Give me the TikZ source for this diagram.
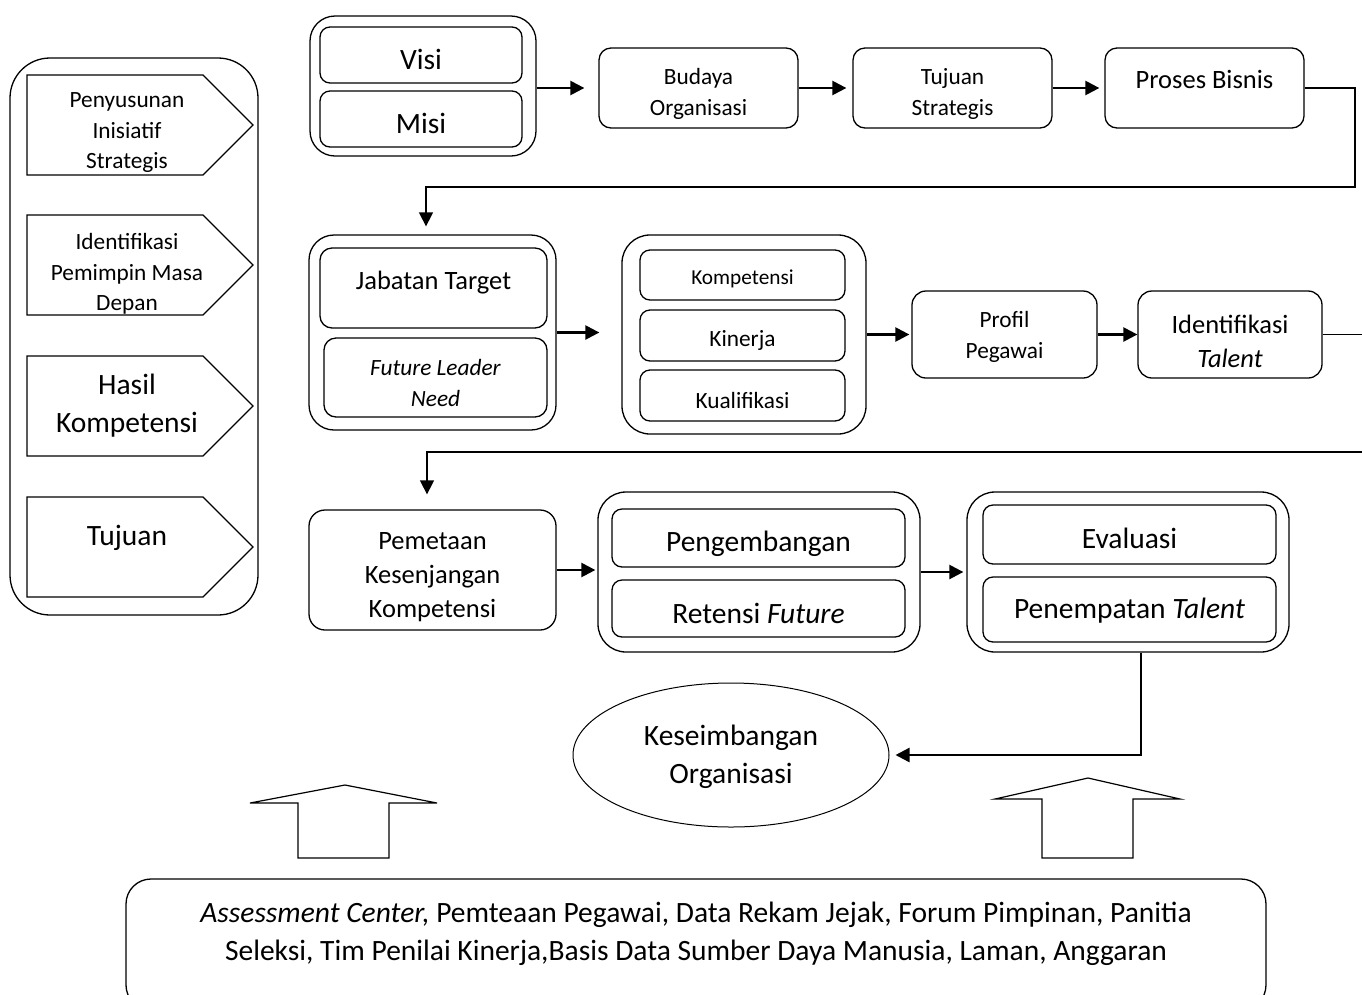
\documentclass[tikz,border=0pt]{standalone}
\usepackage{fontspec}
\setmainfont{Carlito}
\usetikzlibrary{arrows.meta,shapes.geometric,calc}
\newcommand\fszXL{\fontsize{29.5}{38}\selectfont}
\newcommand\fszL{\fontsize{26.5}{34}\selectfont}
\newcommand\fszM{\fontsize{23.3}{30.5}\selectfont}
\newcommand\fszS{\fontsize{21.3}{28}\selectfont}
\begin{document}
\begin{tikzpicture}[x=1pt,y=-1pt,
  box/.style={draw, line width=1.3pt, rounded corners=#1, inner sep=0pt},
  box/.default=12pt,
  txt/.style={align=center, inner sep=0pt},
  conn/.style={line width=2.4pt, -{Triangle[length=14pt,width=14pt]}},
  route/.style={line width=1.4pt},
  outl/.style={draw, line width=1.2pt, line join=miter}
]
\useasboundingbox (0,0) rectangle (1362,994);
\clip (0,0) rectangle (1362,994);

% ---------- left panel ----------
\node[box=40pt, minimum width=248pt, minimum height=557pt] (lp) at (134,336.5) {};
\draw[outl] (27,75) -- (203,75) -- (253,125) -- (203,175) -- (27,175) -- cycle;
\draw[outl] (27,215) -- (203,215) -- (253,265) -- (203,315) -- (27,315) -- cycle;
\draw[outl] (27,356) -- (203,356) -- (253,406) -- (203,456) -- (27,456) -- cycle;
\draw[outl] (27,497) -- (203,497) -- (253,547) -- (203,597) -- (27,597) -- cycle;
\node[txt, font=\fszM] (t1) at (127,133) {Penyusunan\\Inisiatif\\Strategis};
\node[txt, font=\fszM] (t2) at (127,274) {Identifikasi\\Pemimpin Masa\\Depan};
\node[txt, font=\fszXL] (t3) at (127,406) {Hasil\\Kompetensi};
\node[txt, font=\fszXL] (t4) at (127,538) {Tujuan};

% ---------- top row ----------
\node[box=25pt, minimum width=226pt, minimum height=140pt] (vm) at (423,86) {};
\node[box=10pt, minimum width=202pt, minimum height=56pt] (visi) at (421,55) {};
\node[box=10pt, minimum width=202pt, minimum height=56pt] (misi) at (421,119) {};
\node[txt, font=\fszXL] (tvisi) at (421,59) {Visi};
\node[txt, font=\fszXL] (tmisi) at (421,123) {Misi};

\node[box, minimum width=199pt, minimum height=80pt] (bud) at (698.5,88) {};
\node[txt, font=\fszM] (tbud) at (698.5,94) {Budaya\\Organisasi};
\node[box, minimum width=199pt, minimum height=80pt] (tuj) at (952.5,88) {};
\node[txt, font=\fszM] (ttuj) at (952.5,94) {Tujuan\\Strategis};
\node[box, minimum width=199pt, minimum height=80pt] (pb) at (1204.5,88) {};
\node[txt, font=\fszL] (tpb) at (1204.5,79) {Proses Bisnis};

\draw[conn, shorten >=14pt] (vm.east |- bud.west) -- (bud.west);
\draw[conn, shorten >=6pt] (bud.east) -- (tuj.west);
\draw[conn, shorten >=5pt] (tuj.east) -- (pb.west);

\coordinate (c1) at (1355,187);

% ---------- middle row ----------
\node[box=25pt, minimum width=247pt, minimum height=195pt] (jab) at (432.5,332.5) {};
\node[box=12pt, minimum width=227pt, minimum height=80pt] (jt) at (433.5,288) {};
\node[box=12pt, minimum width=223pt, minimum height=79pt] (fl) at (435.5,377.5) {};
\node[txt, font=\fszL] (tjt) at (433.5,283) {Jabatan Target};
\node[txt, font=\fszM] (tfl) at (435.5,383) {\textit{Future Leader}\\\textit{Need}};

\draw[route, -{Triangle[length=14pt,width=14pt]}, shorten >=8pt]
  (pb.east) -| (c1) -| ([xshift=-6.5pt]jab.north);

\node[box=28pt, minimum width=244pt, minimum height=199pt] (kp) at (744,334.5) {};
\node[box=10pt, minimum width=205pt, minimum height=50pt] (k1) at (742.5,275) {};
\node[box=10pt, minimum width=205pt, minimum height=51pt] (k2) at (742.5,335.5) {};
\node[box=10pt, minimum width=205pt, minimum height=51pt] (k3) at (742.5,395.5) {};
\node[txt, font=\fszS] (tk1) at (742.5,279) {Kompetensi};
\node[txt, font=\fszM] (tk2) at (742.5,340) {Kinerja};
\node[txt, font=\fszM] (tk3) at (742.5,400) {Kualifikasi};

\node[box=14pt, minimum width=185pt, minimum height=87pt] (pp) at (1004.5,334.5) {};
\node[txt, font=\fszM] (tpp) at (1004.5,337) {Profil\\Pegawai};
\node[box=14pt, minimum width=184pt, minimum height=87pt] (id) at (1230,334.5) {};
\node[txt, font=\fszL] (tid) at (1230,341) {Identifikasi\\\textit{Talent}};

\draw[conn, shorten >=22pt] (jab.east) -- (kp.west |- jab.east);
\draw[conn, shorten >=2pt] (kp.east) -- (pp.west);
\draw[conn, shorten >=0pt] (pp.east) -- (id.west);

\coordinate (c3) at (1375,452);

% ---------- bottom row ----------
\node[box=16pt, minimum width=247pt, minimum height=120pt] (pem) at (432.5,570) {};
\node[txt, font=\fszL] (tpem) at (432.5,577) {Pemetaan\\Kesenjangan\\Kompetensi};

\draw[route, -{Triangle[length=14pt,width=14pt]}, shorten >=15pt]
  (id.east) -| (c3) -| ([xshift=-5.5pt]pem.north);

\node[box=28pt, minimum width=322pt, minimum height=160pt] (pg) at (759,572) {};
\node[box=10pt, minimum width=293pt, minimum height=58pt] (pg1) at (758.5,538) {};
\node[box=10pt, minimum width=293pt, minimum height=57pt] (pg2) at (758.5,608.5) {};
\node[txt, font=\fszXL] (tpg1) at (758.5,544) {Pengembangan};
\node[txt, font=\fszXL] (tpg2) at (758.5,613) {Retensi \textit{Future}};

\node[box=28pt, minimum width=322pt, minimum height=160pt] (ev) at (1128,572) {};
\node[box=10pt, minimum width=293pt, minimum height=59pt] (ev1) at (1129.5,534.5) {};
\node[box=10pt, minimum width=293pt, minimum height=65pt] (ev2) at (1129.5,609.5) {};
\node[txt, font=\fszXL] (tev1) at (1129.5,538) {Evaluasi};
\node[txt, font=\fszXL] (tev2) at (1129.5,611) {Penempatan \textit{Talent}};

\draw[conn, shorten >=2pt] (pem.east) -- (pg.west |- pem.east);
\draw[conn, shorten >=3pt] (pg.east) -- (ev.west |- pg.east);

% ---------- ellipse ----------
\node[draw, ellipse, line width=1pt, minimum width=316pt, minimum height=144pt, inner sep=0pt] (ke) at (731,755) {};
\node[txt, font=\fszXL] (tke) at (731,757) {Keseimbangan\\Organisasi};
\draw[conn, shorten >=6pt] ([xshift=13pt]ev.south) |- (ke.east);

% ---------- block arrows ----------
\draw[outl] (298,858) -- (298,803) -- (250,803) -- (345,785) -- (437,803) -- (389,803) -- (389,858) -- cycle;
\draw[outl] (1042,858) -- (1042,799) -- (995,799) -- (1088,778) -- (1180,799) -- (1133,799) -- (1133,858) -- cycle;

% ---------- resources box ----------
\node[box=25pt, minimum width=1140pt, minimum height=131pt] (res) at (696,944.5) {};
\node[txt, font=\fszXL] (tres) at (696,934) {\textit{Assessment Center,} Pemteaan Pegawai, Data Rekam Jejak, Forum Pimpinan, Panitia\\Seleksi, Tim Penilai Kinerja,Basis Data Sumber Daya Manusia, Laman, Anggaran};
\end{tikzpicture}
\end{document}
